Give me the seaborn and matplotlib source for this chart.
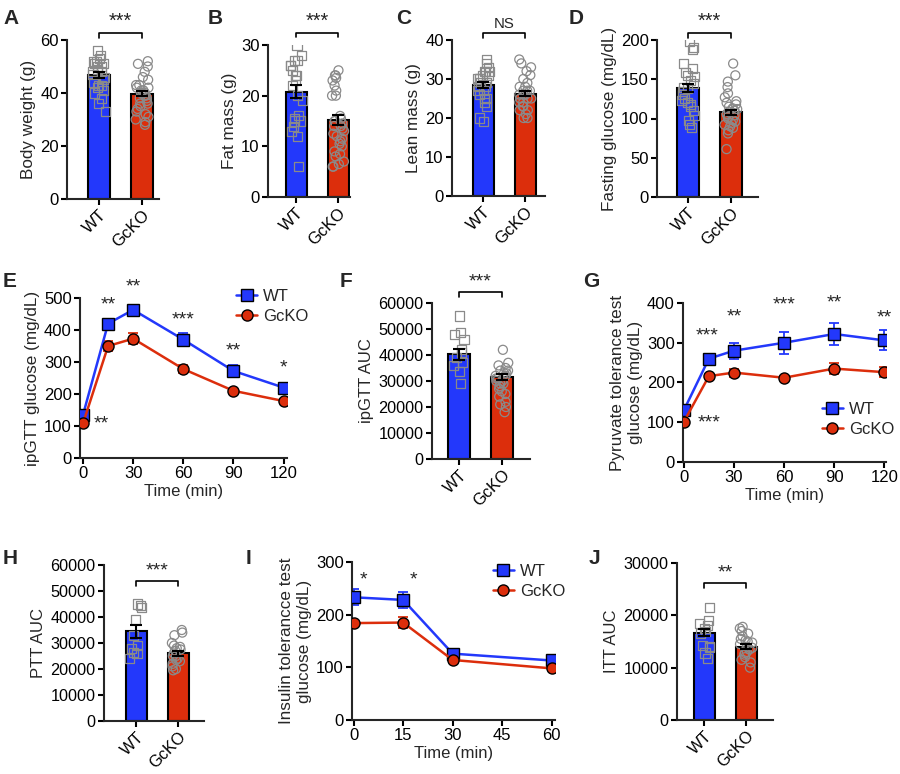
import numpy as np
import pandas as pd
import matplotlib
matplotlib.use("Agg")
import matplotlib.pyplot as plt
import seaborn as sns

W, H = 900, 774
BLUE = "#2338fb"
RED = "#dc2e0c"
GRAY = "#8a8a8a"

groups = ["WT", "GcKO"]

# ---- bar panels: means, SEM and individual animals ----
bw_mean, bw_sem = [46.8, 39.8], [1.2, 1.0]
bw_wt = [56, 54, 53, 52, 52, 51, 51, 50, 50, 49, 48, 48, 47, 46, 45, 44, 43, 43, 42, 41, 40, 38, 36, 33]
bw_ko = [52, 51, 50, 48, 46, 45, 43, 43, 42, 42, 41, 41, 40, 40, 39, 39, 38, 38, 37, 36, 36, 35, 34,
         33, 32, 31, 30, 29, 28]

fat_mean, fat_sem = [20.8, 15.2], [1.3, 1.0]
fat_wt = [30, 28, 27, 27, 26, 26, 25, 24, 24, 23, 22, 20, 19, 16, 15.5, 15, 15, 14, 13, 12, 6]
fat_ko = [25, 24, 24, 23.5, 23, 22, 21, 20, 20, 16, 15.5, 15, 15, 14.5, 14, 14, 13.5, 13, 12.5, 12,
          11.5, 11, 10.5, 10, 9, 8.5, 8, 7, 6.5, 6, 6]

lean_mean, lean_sem = [28.5, 26.2], [0.8, 0.6]
lean_wt = [35, 34, 33, 32, 32, 32, 31, 31, 30, 30, 30, 29, 29, 28, 28, 27, 27, 26, 25, 25, 24, 23, 20, 19]
lean_ko = [35, 34, 33, 32, 31, 30, 29, 28, 28, 27, 27, 27, 26, 26, 26, 25, 25, 25, 24, 24, 23, 23,
           22, 22, 21, 20, 20]

fg_mean, fg_sem = [139, 108], [5, 3]
fg_wt = [198, 191, 188, 170, 164, 159, 155, 153, 149, 145, 140, 138, 134, 130, 126, 123, 120, 118,
         115, 110, 104, 98, 92, 89]
fg_ko = [170, 155, 147, 140, 132, 127, 122, 120, 118, 115, 113, 112, 110, 110, 108, 106, 105, 104,
         102, 100, 98, 96, 94, 92, 90, 88, 85, 81, 61]

gttauc_mean, gttauc_sem = [40200, 31500], [2000, 1200]
gttauc_wt = [55000, 48500, 47700, 45800, 42000, 40800, 39000, 37000, 36000, 33500, 29200]
gttauc_ko = [42000, 37000, 36000, 35000, 34000, 34000, 33000, 33000, 32000, 32000, 31000, 31000,
             30000, 30000, 29000, 29000, 28000, 27000, 26000, 25000, 24000, 22000, 21000, 20000, 18000]

pttauc_mean, pttauc_sem = [34500, 26000], [2500, 1000]
pttauc_wt = [45000, 44500, 43500, 39200, 33000, 29200, 28000, 26500, 26000, 24200]
pttauc_ko = [35000, 34000, 33000, 30000, 29000, 28500, 28000, 27500, 27000, 26000, 25000, 25000,
             24000, 23500, 23000, 22000, 21000, 20000, 19500]

ittauc_mean, ittauc_sem = [16700, 14000], [700, 500]
ittauc_wt = [21500, 19000, 18500, 18000, 17500, 17000, 16500, 14200, 14000, 13800, 12800, 11800]
ittauc_ko = [17800, 17500, 17000, 16500, 16000, 15500, 15200, 15000, 14800, 14500, 14000, 13800,
             13500, 13000, 12800, 12500, 12000, 11500, 11000, 10000]

# ---- time courses ----
gtt_t = [0, 15, 30, 60, 90, 120]
gtt_wt = [135, 420, 463, 370, 272, 220]
gtt_wt_sem = [5, 12, 15, 20, 18, 15]
gtt_ko = [108, 350, 373, 278, 210, 178]
gtt_ko_sem = [4, 15, 18, 12, 5, 5]
gtt_stars = [(15, 478, "**"), (30, 534, "**"), (60, 431, "***"), (90, 334, "**"), (120, 281, "*"),
             (11, 106, "**")]

ptt_t = [0, 15, 30, 60, 90, 120]
ptt_wt = [130, 260, 280, 300, 322, 306]
ptt_wt_sem = [4, 8, 20, 28, 27, 25]
ptt_ko = [101, 216, 225, 212, 235, 226]
ptt_ko_sem = [3, 5, 10, 5, 13, 13]
ptt_stars = [(14, 317, "***"), (30, 365, "**"), (60, 395, "***"), (90, 400, "**"), (120, 362, "**"),
             (15, 98, "***")]

itt_t = [0, 15, 30, 60]
itt_wt = [233, 228, 126, 113]
itt_wt_sem = [15, 15, 5, 5]
itt_ko = [184, 185, 114, 98]
itt_ko_sem = [3, 10, 3, 3]
itt_stars = [(3, 266, "*"), (18, 266, "*")]

sns.set_style("ticks")
plt.rcParams["font.family"] = ["Liberation Sans", "DejaVu Sans"]
plt.rcParams["axes.linewidth"] = 1.5
plt.rcParams["xtick.major.width"] = 1.5
plt.rcParams["ytick.major.width"] = 1.5
plt.rcParams["xtick.major.size"] = 4
plt.rcParams["ytick.major.size"] = 4

fig = plt.figure(figsize=(W / 100, H / 100), dpi=100)


def rect(l, t, r, b):
    return [l / W, 1 - b / H, (r - l) / W, (b - t) / H]


def style_axes(ax, fs):
    sns.despine(ax=ax)
    ax.tick_params(labelsize=fs, colors="black", pad=2)


def bar_panel(px, cx, means, sems, wt_pts, ko_pts, ymax, ystep, ylabel, sig, brk_y, fs=12.3):
    ax = fig.add_axes(rect(*px))
    bars = pd.DataFrame({"group": groups, "value": means})
    sns.barplot(data=bars, x="group", y="value", hue="group", palette=[BLUE, RED], saturation=1,
                edgecolor="black", linewidth=1.5, width=0.5, legend=False, ax=ax, zorder=1)
    pts = pd.DataFrame({"group": ["WT"] * len(wt_pts) + ["GcKO"] * len(ko_pts),
                        "value": wt_pts + ko_pts})
    for g, m in zip(groups, ["s", "o"]):
        sns.stripplot(data=pts[pts.group == g], x="group", y="value", order=groups,
                      marker=m, size=6.5, jitter=0.15, facecolors="none", edgecolor=GRAY,
                      linewidth=0.9, color=GRAY, ax=ax, zorder=3)
    ax.errorbar([0, 1], means, yerr=sems, fmt="none", ecolor="black", elinewidth=1.5,
                capsize=4, capthick=1.5, zorder=4)
    unit = cx[1] - cx[0]
    ax.set_xlim((px[0] - cx[0]) / unit, 1 + (px[2] - cx[1]) / unit)
    ax.set_ylim(0, ymax)
    ax.set_yticks(np.arange(0, ymax + 1, ystep))
    ax.set_xticks([0, 1])
    ax.set_xticklabels(groups, rotation=45, ha="right", rotation_mode="anchor")
    ax.set_xlabel("")
    ax.set_ylabel(ylabel, fontsize=fs, labelpad=3)
    style_axes(ax, fs - 0.3)
    # significance bracket
    tip = ymax * 0.03
    ax.plot([0, 0, 1, 1], [brk_y - tip, brk_y, brk_y, brk_y - tip], color="black", lw=1.2,
            clip_on=False)
    ax.text(0.5, brk_y + ymax * 0.012, sig, ha="center", va="bottom",
            fontsize=fs - 1.5 if sig == "NS" else fs + 2)
    return ax


def line_panel(px, t, wt, wt_e, ko, ko_e, ymax, ystep, xticks, xlim, ylabel, stars, leg_xy, fs=12):
    ax = fig.add_axes(rect(*px))
    ax.errorbar(t, wt, yerr=wt_e, fmt="none", ecolor=BLUE, elinewidth=1.3, capsize=3.5,
                capthick=1.3, zorder=2)
    ax.errorbar(t, ko, yerr=ko_e, fmt="none", ecolor=RED, elinewidth=1.3, capsize=3.5,
                capthick=1.3, zorder=2)
    sns.lineplot(x=t, y=wt, color=BLUE, marker="s", markersize=8, markeredgecolor="black",
                 markeredgewidth=1.0, linewidth=1.8, label="WT", ax=ax, zorder=3)
    sns.lineplot(x=t, y=ko, color=RED, marker="o", markersize=8, markeredgecolor="black",
                 markeredgewidth=1.0, linewidth=1.8, label="GcKO", ax=ax, zorder=3)
    ax.set_xlim(*xlim)
    ax.set_ylim(0, ymax)
    ax.set_yticks(np.arange(0, ymax + 1, ystep))
    ax.set_xticks(xticks)
    ax.set_xlabel("Time (min)", fontsize=fs, labelpad=2)
    ax.set_ylabel(ylabel, fontsize=fs + 0.3, labelpad=3)
    style_axes(ax, fs)
    for x, y, s in stars:
        ax.text(x, y, s, ha="center", va="center", fontsize=fs + 2, clip_on=False)
    ax.legend(loc="upper left", bbox_to_anchor=leg_xy, frameon=False, fontsize=fs,
              handlelength=1.3, handletextpad=0.35, labelspacing=0.3, borderaxespad=0)
    return ax


# top row
bar_panel((67, 40, 159, 199), (99, 142), bw_mean, bw_sem, bw_wt, bw_ko, 60, 20,
          "Body weight (g)", "***", 62.6)
bar_panel((268, 45, 350, 197), (296, 338), fat_mean, fat_sem, fat_wt, fat_ko, 30, 10,
          "Fat mass (g)", "***", 32.4)
bar_panel((452, 40, 545, 196), (483, 525), lean_mean, lean_sem, lean_wt, lean_ko, 40, 10,
          "Lean mass (g)", "NS", 41.8)
bar_panel((657, 40, 758, 197), (688, 731), fg_mean, fg_sem, fg_wt, fg_ko, 200, 50,
          "Fasting glucose (mg/dL)", "***", 209)

# middle row
line_panel((80, 298, 287, 458), gtt_t, gtt_wt, gtt_wt_sem, gtt_ko, gtt_ko_sem, 500, 100,
           [0, 30, 60, 90, 120], (-1.8, 122), "ipGTT glucose (mg/dL)", gtt_stars, (0.72, 1.1))
bar_panel((432, 303, 530, 459), (459, 502), gttauc_mean, gttauc_sem, gttauc_wt, gttauc_ko,
          60000, 10000, "ipGTT AUC", "***", 64200, fs=12)
line_panel((683, 303, 886, 462), ptt_t, ptt_wt, ptt_wt_sem, ptt_ko, ptt_ko_sem, 400, 100,
           [0, 30, 60, 90, 120], (-0.5, 121), "Pyruvate tolerance test\nglucose (mg/dL)",
           ptt_stars, (0.65, 0.42))

# bottom row
bar_panel((104, 565, 204, 721), (136, 178), pttauc_mean, pttauc_sem, pttauc_wt, pttauc_ko,
          60000, 10000, "PTT AUC", "***", 53800, fs=12)
line_panel((352, 562, 555, 720), itt_t, itt_wt, itt_wt_sem, itt_ko, itt_ko_sem, 300, 100,
           [0, 15, 30, 45, 60], (-0.5, 61), "Insulin tolerancce test\nglucose (mg/dL)",
           itt_stars, (0.66, 1.03))
bar_panel((677, 563, 773, 720), (704, 746), ittauc_mean, ittauc_sem, ittauc_wt, ittauc_ko,
          30000, 10000, "ITT AUC", "**", 26200, fs=12)

# panel letters
for lab, x, y in [("A", 3, 9), ("B", 208, 9), ("C", 396, 9), ("D", 569, 9),
                  ("E", 3, 272), ("F", 340, 272), ("G", 583, 272),
                  ("H", 3, 549), ("I", 246, 549), ("J", 589, 549)]:
    fig.text(x / W, 1 - y / H, lab, fontsize=15, fontweight="bold", ha="left", va="top")

fig.savefig("out.png", dpi=100)
